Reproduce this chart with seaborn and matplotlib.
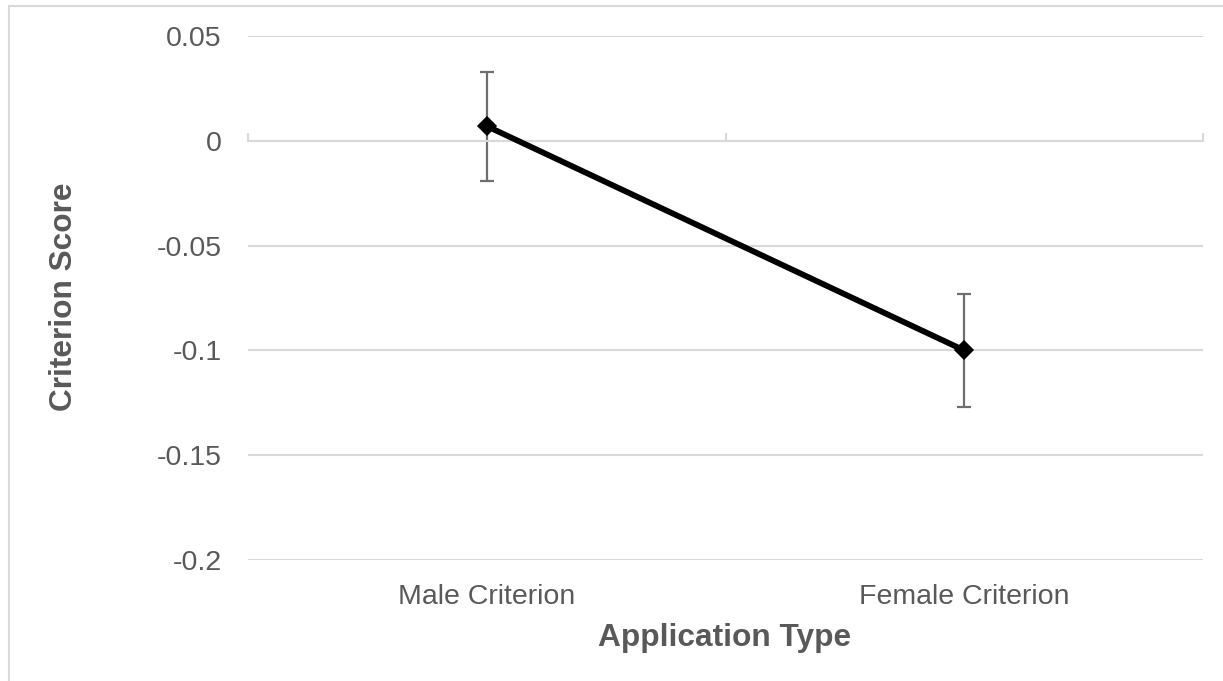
import matplotlib
matplotlib.use("Agg")
import matplotlib.pyplot as plt
import seaborn as sns
import pandas as pd
from matplotlib.patches import Rectangle

categories = ["Male Criterion", "Female Criterion"]
scores = [0.007, -0.100]
errors = [0.026, 0.027]
yticks = [0.05, 0, -0.05, -0.1, -0.15, -0.2]
ytick_labels = ["0.05", "0", "-0.05", "-0.1", "-0.15", "-0.2"]

sns.set_theme(style="white")
plt.rcParams['font.family'] = ['Liberation Sans', 'DejaVu Sans']

df = pd.DataFrame({"Application Type": categories, "Criterion Score": scores})

W, H = 1223, 681
fig = plt.figure(figsize=(W / 100, H / 100), dpi=100)
ax = fig.add_axes([248 / W, (H - 560) / H, 955 / W, 524 / H])

grid_c = "#d9d9d9"
text_c = "#595959"

# gridlines
for t in yticks:
    ax.axhline(t, color=grid_c, lw=1.5, zorder=0)

ax.errorbar(range(len(categories)), scores, yerr=errors, fmt="none",
            ecolor="#6e6e6e", elinewidth=1.6, capsize=5, capthick=1.6, zorder=2)

sns.pointplot(data=df, x="Application Type", y="Criterion Score", ax=ax,
              color="black", markers="D", errorbar=None, zorder=3,
              linewidth=4.2, markersize=7.5)

ax.set_xlim(-0.5, len(categories) - 0.5)
ax.set_ylim(-0.2, 0.05)
ax.set_yticks(yticks)
ax.set_yticklabels(ytick_labels)
ax.set_xticks(range(len(categories)))
ax.set_xticklabels(categories)

for s in ["left", "right", "bottom"]:
    ax.spines[s].set_visible(False)
ax.spines["top"].set_position(("data", 0))
ax.spines["top"].set_color(grid_c)
ax.spines["top"].set_linewidth(1.5)
ax.set_xticks([-0.5, 0.5, 1.5], minor=True)
ax.tick_params(axis="x", which="minor", top=True, bottom=False, length=6,
               width=1.5, color=grid_c, direction="out")
ax.tick_params(axis="x", which="major", length=0, pad=17, labelsize=20.5,
               labelcolor=text_c, top=False, bottom=False)
ax.tick_params(axis="y", length=0, pad=19, labelsize=20.5, labelcolor=text_c)

ax.set_xlabel("")
ax.set_ylabel("")
fig.text(725 / W, 1 - 638 / H, "Application Type", ha="center", va="center",
         fontsize=22.8, fontweight="bold", color=text_c)
fig.text(64 / W, 1 - 297 / H, "Criterion Score", ha="center", va="center",
         rotation=90, fontsize=22.8, fontweight="bold", color=text_c)

fig.add_artist(Rectangle((9 / W, -0.5), 2, 0.5 + 1 - 6 / H, transform=fig.transFigure,
                         fill=False, edgecolor=grid_c, lw=1.5))

fig.savefig("out.png", dpi=100, facecolor="white")
